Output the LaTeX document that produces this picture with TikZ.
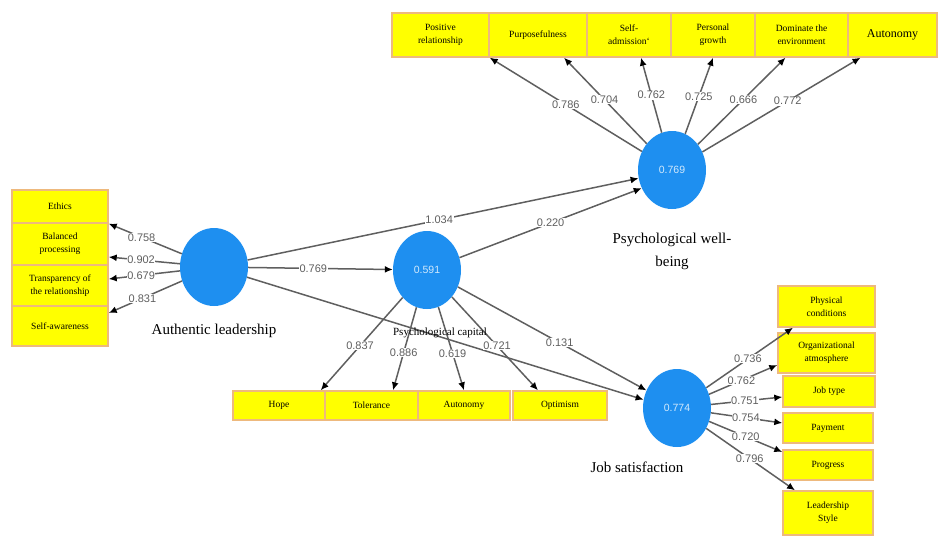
\documentclass[tikz,border=0pt]{standalone}
\usepackage{fontspec}
\setmainfont{Liberation Serif}
\setsansfont{Liberation Sans}
\usetikzlibrary{shapes.geometric,arrows.meta}
\definecolor{latentblue}{RGB}{30,143,240}
\definecolor{boxedge}{RGB}{238,185,125}
\definecolor{boxfill}{RGB}{255,255,0}
\definecolor{linkgray}{RGB}{95,95,95}

\begin{document}
\begin{tikzpicture}[x=1pt,y=-1pt,
    latent/.style={ellipse, fill=latentblue, minimum width=68pt, minimum height=78pt, inner sep=0pt,
        text=white!80!latentblue, font=\sffamily\fontsize{10.5}{12}\selectfont},
    indicator/.style={rectangle, draw=boxedge, line width=1.4pt, fill=boxfill, inner sep=1pt,
        align=center, font=\fontsize{9.5}{13}\selectfont},
    loading/.style={fill=white, inner sep=0.6pt, text=linkgray, font=\sffamily\fontsize{11}{12}\selectfont},
    link/.style={draw=linkgray, line width=1.5pt, -{Latex[length=8pt,width=7pt,black]}},
    construct/.style={align=center, font=\fontsize{15}{23}\selectfont}]
    \useasboundingbox (0,0) rectangle (939,538);

    % Nodes
    \node[latent] (al) at (214,267) {};
    \node[latent] (pc) at (427,270) {0.591};
    \node[latent] (pwb) at (672,170) {0.769};
    \node[latent] (js) at (677,408) {0.774};

    \node[indicator, minimum width=97pt, minimum height=44pt] (b1) at (440.5,35) {Positive\\relationship};
    \node[indicator, minimum width=98pt, minimum height=44pt] (b2) at (538,35) {Purposefulness};
    \node[indicator, minimum width=84pt, minimum height=44pt] (b3) at (629,35) {Self-\\admission`};
    \node[indicator, minimum width=84pt, minimum height=44pt] (b4) at (713,35) {Personal\\growth};
    \node[indicator, minimum width=93pt, minimum height=44pt] (b5) at (801.5,35) {Dominate the\\environment};
    \node[indicator, minimum width=89pt, minimum height=44pt, font=\fontsize{12}{14}\selectfont] (b6) at (892.5,35) {Autonomy};

    \node[indicator, minimum width=96pt, minimum height=33pt] (eth) at (60,206.5) {Ethics};
    \node[indicator, minimum width=96pt, minimum height=42pt] (bal) at (60,244) {Balanced\\processing};
    \node[indicator, minimum width=96pt, minimum height=41pt] (tra) at (60,285.5) {Transparency of\\the relationship};
    \node[indicator, minimum width=96pt, minimum height=40pt] (saw) at (60,326) {Self-awareness};

    \node[indicator, minimum width=92pt, minimum height=29pt] (hope) at (279,405.5) {Hope};
    \node[indicator, minimum width=93pt, minimum height=29pt] (tol) at (371.5,405.5) {Tolerance};
    \node[indicator, minimum width=92pt, minimum height=29pt] (aut) at (464,405.5) {Autonomy};
    \node[indicator, minimum width=94pt, minimum height=29pt] (opt) at (560,405.5) {Optimism};

    \node[indicator, minimum width=97pt, minimum height=41pt] (phys) at (826.5,306.5) {Physical\\conditions};
    \node[indicator, minimum width=97pt, minimum height=40pt] (org) at (826.5,353) {Organizational\\atmosphere};
    \node[indicator, minimum width=92pt, minimum height=31pt] (job) at (829,391.5) {Job type};
    \node[indicator, minimum width=90pt, minimum height=30pt] (pay) at (828,428) {Payment};
    \node[indicator, minimum width=90pt, minimum height=30pt] (prog) at (828,465) {Progress};
    \node[indicator, minimum width=90pt, minimum height=44pt] (lead) at (828,513) {Leadership\\Style};

    % Edges
    \draw[link] (al) -- (pc) node[loading, pos=0.45] {0.769};
    \draw[link] (al) -- (pwb.194) node[loading, pos=0.49] {1.034};
    \draw[link] (pc) -- (pwb.211) node[loading, pos=0.5] {0.220};
    \draw[link] (pc) -- (js.150) node[loading, pos=0.54] {0.131};
    \draw[link] (al) -- (js.166);

    \draw[link] (al) -- (eth.south east) node[loading, pos=0.55] {0.758};
    \draw[link] (al) -- ([yshift=-13pt]bal.east) node[loading, pos=0.545] {0.902};
    \draw[link] (al) -- ([yshift=6.5pt]tra.east) node[loading, pos=0.545] {0.679};
    \draw[link] (al) -- ([yshift=13pt]saw.east) node[loading, pos=0.54] {0.831};

    \draw[link] (pwb) -- (b1.south east) node[loading, pos=0.5] {0.786};
    \draw[link] (pwb) -- ([xshift=26pt]b2.south) node[loading, pos=0.51] {0.704};
    \draw[link] (pwb) -- ([xshift=12pt]b3.south) node[loading, pos=0.5] {0.762};
    \draw[link] (pwb) -- (b4.south) node[loading, pos=0.49] {0.725};
    \draw[link] (pwb) -- ([xshift=-16pt]b5.south) node[loading, pos=0.52] {0.666};
    \draw[link] (pwb) -- ([xshift=-32pt]b6.south) node[loading, pos=0.54] {0.772};

    \draw[link] (pc) -- ([xshift=-5pt]hope.north east) node[loading, pos=0.52] {0.837};
    \draw[link] (pc) -- ([xshift=21.5pt]tol.north) node[loading, pos=0.545] {0.886};
    \draw[link] (pc) -- (aut.north) node[loading, pos=0.555] {0.619};
    \draw[link] (pc) -- ([xshift=-22pt]opt.north) node[loading, pos=0.525] {0.721};

    \draw[link] (js) -- ([xshift=-33.5pt]phys.south) node[loading, pos=0.48] {0.736};
    \draw[link] (js) -- ([yshift=-12pt]org.west) node[loading, pos=0.475] {0.762};
    \draw[link] (js) -- ([yshift=-5.5pt]job.west) node[loading, pos=0.475] {0.751};
    \draw[link] (js) -- ([yshift=5pt]pay.west) node[loading, pos=0.49] {0.754};
    \draw[link] (js) -- ([yshift=13pt]prog.west) node[loading, pos=0.5] {0.720};
    \draw[link] (js) -- ([xshift=-33pt]lead.north) node[loading, pos=0.49] {0.796};

    % Construct names
    \node[construct] (alname) at (214,331) {Authentic leadership};
    \node[construct, font=\fontsize{11}{13}\selectfont] (pcname) at (440,333) {Psychological capital};
    \node[construct] (pwbname) at (672,251.5) {Psychological well-\\being};
    \node[construct] (jsname) at (637,467) {Job satisfaction};
\end{tikzpicture}
\end{document}
